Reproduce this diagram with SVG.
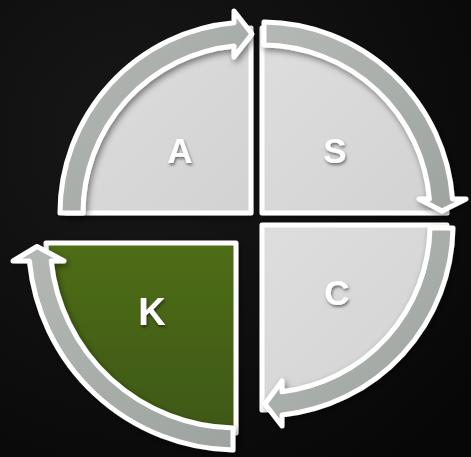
<svg xmlns="http://www.w3.org/2000/svg" width="471" height="457" viewBox="0 0 471 457">
<style>
.pie{stroke:#fff;stroke-width:5;stroke-linejoin:round;filter:url(#sh)}
.grey{fill:url(#gp)}
.green{fill:url(#gg)}
.arrow{fill:url(#ga);stroke:#fff;stroke-width:5;stroke-linejoin:round;filter:url(#sh)}
.lbl{font-family:"Liberation Sans",Arial,sans-serif;font-weight:bold;fill:#fff;text-anchor:middle;filter:url(#ts)}
</style>
<defs>
<linearGradient id="gp" x1="0" y1="0" x2="1" y2="1"><stop offset="0" stop-color="#dedede"/><stop offset="1" stop-color="#d2d2d2"/></linearGradient>
<linearGradient id="gg" x1="0" y1="0" x2="0" y2="1"><stop offset="0" stop-color="#4f6d17"/><stop offset="1" stop-color="#3e5812"/></linearGradient>
<linearGradient id="ga" x1="0" y1="0" x2="1" y2="1"><stop offset="0" stop-color="#b4b9b5"/><stop offset="1" stop-color="#9da39f"/></linearGradient>
<radialGradient id="bg" cx="0.3" cy="0.3" r="0.9"><stop offset="0" stop-color="#181818"/><stop offset="1" stop-color="#070707"/></radialGradient>
<filter id="sh" x="-20%" y="-20%" width="140%" height="140%"><feDropShadow dx="2" dy="3" stdDeviation="3" flood-color="#000" flood-opacity="0.45"/></filter>
<filter id="ts" x="-30%" y="-30%" width="160%" height="160%"><feDropShadow dx="1" dy="2" stdDeviation="1.5" flood-color="#000" flood-opacity="0.5"/></filter>
</defs>
<rect width="471" height="457" fill="url(#bg)"/>
<g id="A">
<path class="pie grey" d="M251 213 L66 213 A185 185 0 0 1 251 28 Z"/>
<text class="lbl" x="180" y="163" font-size="35">A</text>
</g>
<g id="S">
<path class="pie grey" d="M262 213 L262 28 A185 185 0 0 1 447 213 Z"/>
<text class="lbl" x="335" y="163" font-size="35">S</text>
</g>
<g id="C">
<path class="pie grey" d="M262 225 L447 225 A185 185 0 0 1 262 410 Z"/>
<text class="lbl" x="337" y="305" font-size="35">C</text>
</g>
<g id="K">
<path class="pie green" d="M236 243 L236 433 A190 190 0 0 1 46 243 Z"/>
<text class="lbl" x="152" y="325" font-size="38">K</text>
</g>
<g id="connectors">
<path class="arrow" d="M60 213 A191 191 0 0 1 234 22.8 L234 11 L252 34 L234 57 L234 45.9 A168 168 0 0 0 83 213 Z"/>
<path class="arrow" d="M264 22 A191 191 0 0 1 452.5 199 L466 199 L442 211 L419 199 L429.4 199 A168 168 0 0 0 264 45 Z"/>
<path class="arrow" d="M453 228 A191 191 0 0 1 282 415 L282 426 L265 404 L282 381 L282 391.8 A168 168 0 0 0 430 228 Z"/>
<path class="arrow" d="M233 450 A209 209 0 0 1 29.4 261 L13 261 L37 246.5 L64 261 L51.2 261 A187 187 0 0 0 233 428 Z"/>
</g>
</svg>
